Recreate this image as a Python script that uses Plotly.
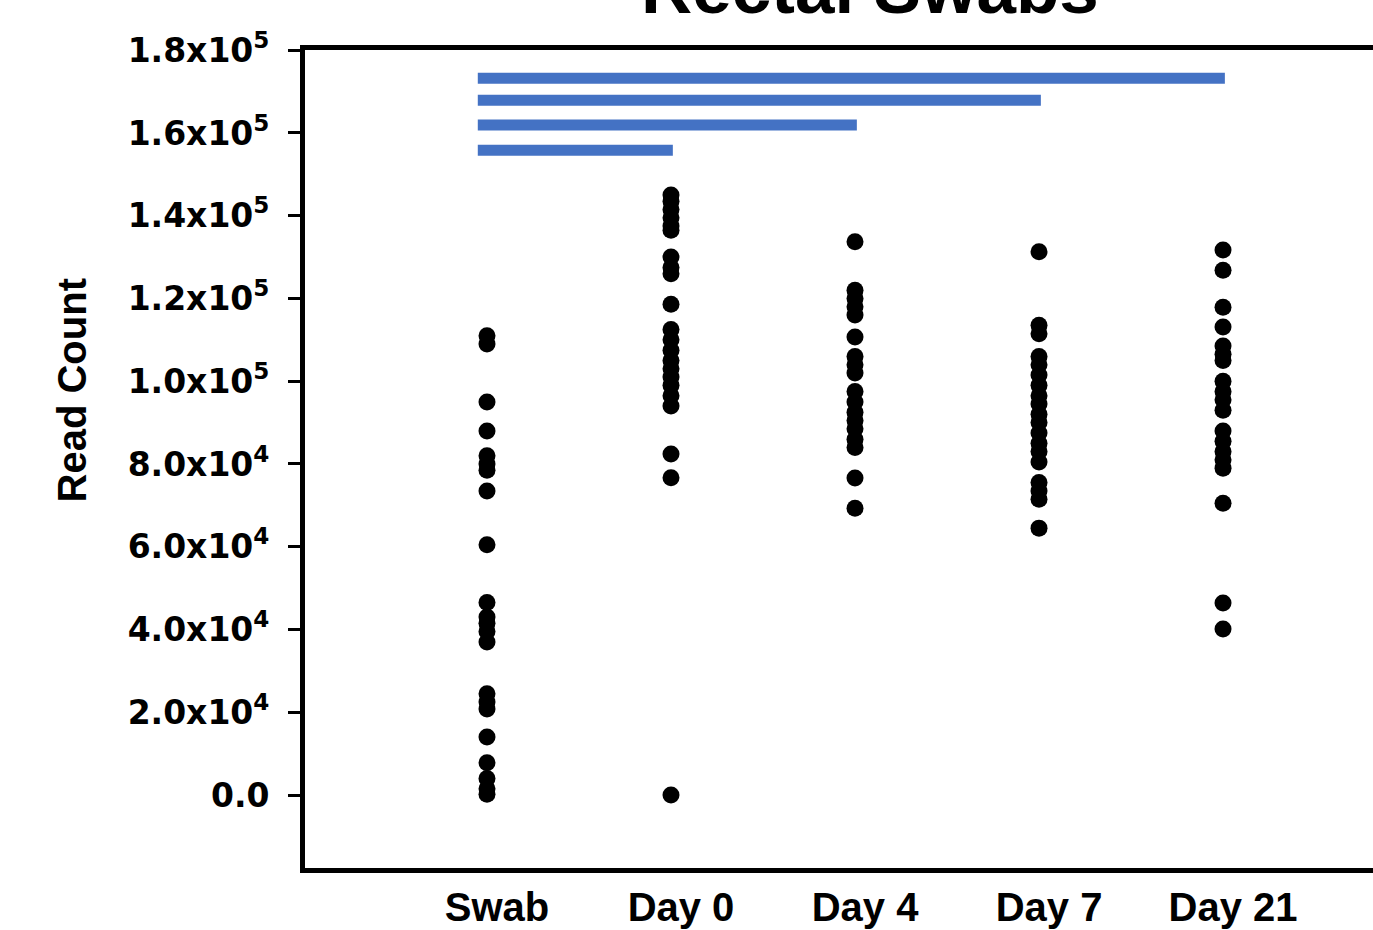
import plotly.graph_objects as go

# Read counts per sampling time point
categories = ["Swab", "Day 0", "Day 4", "Day 7", "Day 21"]

swab = [111000, 109000, 95000, 88000, 82000, 80000, 78500, 73500, 60500,
        46500, 43000, 41500, 39500, 37000, 24500, 22500, 20800, 14000,
        7800, 4000, 1500, 200]
day0 = [145000, 143500, 141500, 139500, 137500, 136500, 130000, 127500, 126000,
        118600, 112500, 110000, 107500, 105000, 103000, 101000, 99000, 96500,
        94000, 82400, 76700, 0]
day4 = [133700, 122000, 120000, 118000, 116000, 110700, 106000, 104000, 102000,
        97500, 95000, 92500, 90500, 88500, 86000, 84000, 76600, 69300]
day7 = [131300, 113500, 111500, 106000, 104000, 101500, 99000, 96500, 94500,
        92000, 90000, 87500, 85000, 83000, 80500, 75500, 73500, 71500, 64500]
day21 = [131700, 126800, 117900, 113100, 108500, 106500, 105000, 100000, 97500,
         95500, 93000, 88000, 85500, 83000, 81000, 79000, 70500, 46400, 40100]

groups = [swab, day0, day4, day7, day21]

# Comparison brackets: Swab vs each later time point
bracket_levels = [155800, 161900, 167900, 173200]
bracket_targets = [1, 2, 3, 4]

tick_vals = [0, 20000, 40000, 60000, 80000, 100000, 120000, 140000, 160000, 180000]
tick_text = ["0.0", "2.0x10<sup>4</sup>", "4.0x10<sup>4</sup>", "6.0x10<sup>4</sup>",
             "8.0x10<sup>4</sup>", "1.0x10<sup>5</sup>", "1.2x10<sup>5</sup>",
             "1.4x10<sup>5</sup>", "1.6x10<sup>5</sup>", "1.8x10<sup>5</sup>"]

FONT = "Liberation Sans, Arial, sans-serif"
TICK_FONT = "DejaVu Sans, Liberation Sans, sans-serif"

fig = go.Figure()

for i, vals in enumerate(groups):
    fig.add_trace(go.Scatter(
        x=[i] * len(vals), y=vals, mode="markers",
        marker=dict(color="black", size=17, line=dict(width=0)),
        showlegend=False, hoverinfo="y",
    ))

for level, target in zip(bracket_levels, bracket_targets):
    fig.add_trace(go.Scatter(
        x=[-0.05, target + 0.01], y=[level, level], mode="lines",
        line=dict(color="#4472C4", width=11),
        showlegend=False, hoverinfo="skip",
    ))

fig.add_annotation(
    text="<b>Rectal Swabs</b>", xref="paper", yref="paper",
    x=0.529, y=1.024, xanchor="center", yanchor="bottom", showarrow=False,
    font=dict(family=FONT, size=71, color="black"),
)
fig.add_annotation(
    text="<b>Read Count</b>", xref="paper", yref="paper",
    x=-0.218, y=0.584, xanchor="center", yanchor="middle", showarrow=False,
    textangle=-90, font=dict(family=FONT, size=40, color="black"),
)

fig.update_layout(
    width=1373, height=930,
    margin=dict(l=305, r=0, t=50, b=62),
    plot_bgcolor="white", paper_bgcolor="white",
    font=dict(family=FONT, color="black"),
)

fig.update_xaxes(
    range=[-0.989, 4.815], tickvals=list(range(len(categories))), ticktext=categories,
    showgrid=False, zeroline=False, showline=True, linecolor="black", linewidth=5,
    mirror=True, ticks="", ticklabelshift=10,
    tickfont=dict(family=FONT, size=40, weight="bold", color="black"),
)
fig.update_yaxes(
    range=[-17637, 180050], tickvals=tick_vals, ticktext=tick_text,
    showgrid=False, zeroline=False, showline=True, linecolor="black", linewidth=5,
    ticks="outside", ticklen=12, tickwidth=3, tickcolor="black", ticklabelstandoff=12,
    tickfont=dict(family=TICK_FONT, size=33, weight="bold", color="black"),
)

fig.write_html("out.html")
